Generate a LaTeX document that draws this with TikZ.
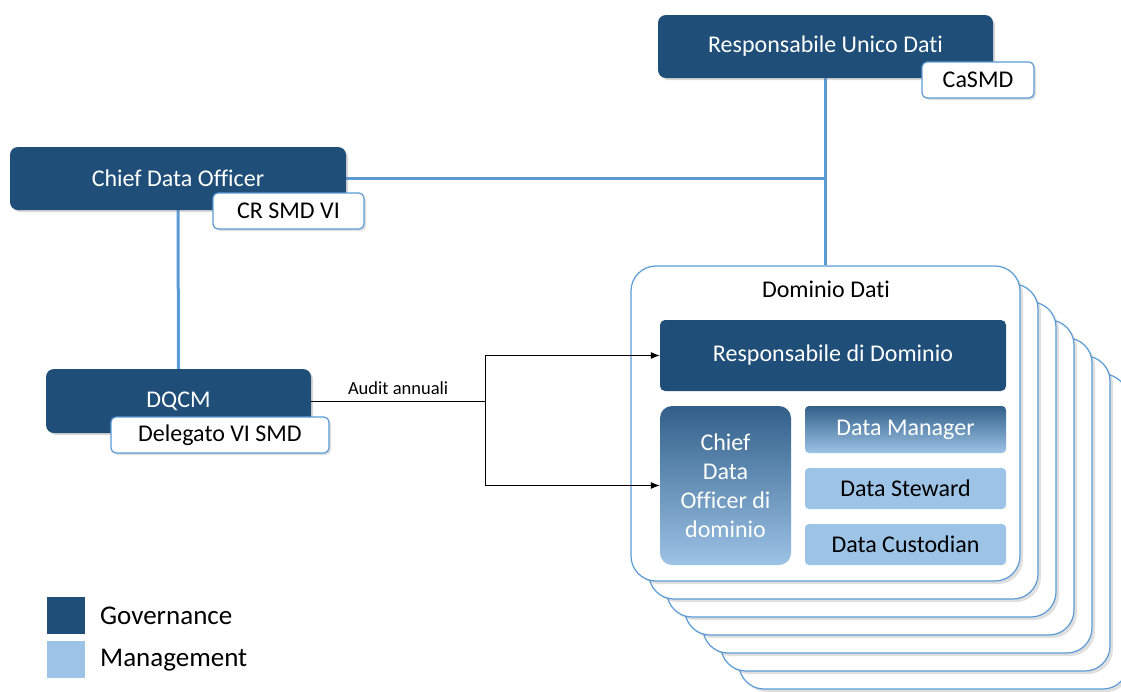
\documentclass[tikz,border=0pt]{standalone}
\usepackage{fontspec}
\setmainfont{Carlito}[Ligatures=NoCommon]
\usetikzlibrary{arrows.meta, positioning, calc, shadows, backgrounds}
\definecolor{govblue}{HTML}{1F4E79}
\definecolor{mgmtblue}{HTML}{9DC3E6}
\definecolor{linkblue}{HTML}{5B9BD5}

\begin{document}
\begin{tikzpicture}[
  x=1pt, y=-1pt,
  txt/.style={font=\fontsize{24}{29}\selectfont},
  govbox/.style={txt, rectangle, rounded corners=8pt, fill=govblue, text=white, drop shadow={opacity=0.3, shadow xshift=2pt, shadow yshift=-2pt}},
  tagbox/.style={txt, rectangle, rounded corners=5pt, fill=white, draw=linkblue, line width=1.2pt, drop shadow={opacity=0.25, shadow xshift=2pt, shadow yshift=-2pt}},
  stackbox/.style={rectangle, rounded corners=25pt, fill=white, draw=linkblue, line width=1.2pt, minimum width=389pt, minimum height=315pt, drop shadow={opacity=0.25, shadow xshift=3pt, shadow yshift=-3pt}},
  innergov/.style={txt, rectangle, rounded corners=5pt, fill=govblue, text=white},
  innermgmt/.style={txt, rectangle, rounded corners=4pt, fill=mgmtblue},
  shadedbox/.style={txt, rectangle, text=white, top color=govblue!85!mgmtblue, bottom color=mgmtblue},
  link/.style={draw=linkblue, line width=3pt},
  arrow/.style={-{Latex[length=9pt, width=7pt]}, line width=1pt},
  keybox/.style={rectangle, minimum width=38pt, minimum height=37pt}
]
  \clip (0,0) rectangle (1121,691);

  % Top level roles
  \node[govbox, minimum width=335pt, minimum height=63pt] (rud) at (825.5,46.5) {Responsabile Unico Dati};
  \node[tagbox, minimum width=112pt, minimum height=36pt] (casmd) at (978,80) {CaSMD};

  \node[govbox, minimum width=336pt, minimum height=63pt] (cdo) at (178,178.5) {Chief Data Officer};
  \node[tagbox, minimum width=151pt, minimum height=36pt] (crsmd) at (288.5,211) {CR SMD VI};

  \node[govbox, minimum width=265pt, minimum height=64pt] (dqcm) at (178.5,401) {DQCM};
  \node[tagbox, minimum width=218pt, minimum height=36pt] (delegato) at (220,435) {Delegato VI SMD};

  % Stack of data domains
  \foreach \i in {6,5,...,1}
    \node[stackbox] (dom\i) at ({825.5+18*\i},{423.5+18*\i}) {};
  \node[stackbox] (dom) at (825.5,423.5) {};
  \node[txt] (domlbl) at (826,289) {Dominio Dati};

  \node[innergov, minimum width=346pt, minimum height=71pt] (resp) at (833,355.5) {Responsabile di Dominio};
  \node[shadedbox, rounded corners=12pt, minimum width=131pt, minimum height=159pt, align=center] (cdod) at (725.5,485.5) {Chief\\Data\\Officer di\\dominio};
  \node[shadedbox, rounded corners=4pt, minimum width=201pt, minimum height=47pt] (dman) at (905.5,429.5) {Data Manager};
  \node[innermgmt, minimum width=201pt, minimum height=41pt] (dste) at (905.5,488.5) {Data Steward};
  \node[innermgmt, minimum width=201pt, minimum height=41pt] (dcus) at (905.5,544.5) {Data Custodian};

  % Connections
  \begin{scope}[on background layer]
    \draw[link] (rud.south) -- (dom.north);
    \draw[link] (cdo.east) -- (cdo.east -| rud.south);
    \draw[link] (cdo.south) -- (dqcm.north);
  \end{scope}

  % Audit
  \coordinate (audit) at (485,401);
  \draw[line width=1pt] (dqcm.east) -- node[above=3pt, font=\fontsize{18.5}{22}\selectfont] {Audit annuali} (audit);
  \draw[arrow] (audit) |- (resp.west);
  \draw[arrow] (audit) |- (cdod.west);

  % Legend
  \node[keybox, fill=govblue] (govkey) at (66,615.5) {};
  \node[keybox, fill=mgmtblue] (mgmtkey) at (66,659.5) {};
  \node[font=\fontsize{27}{32}\selectfont, anchor=west, inner sep=0pt] (govlbl) at (100,616) {Governance};
  \node[font=\fontsize{27}{32}\selectfont, anchor=west, inner sep=0pt] (mgmtlbl) at (100,660) {Management};
\end{tikzpicture}
\end{document}
